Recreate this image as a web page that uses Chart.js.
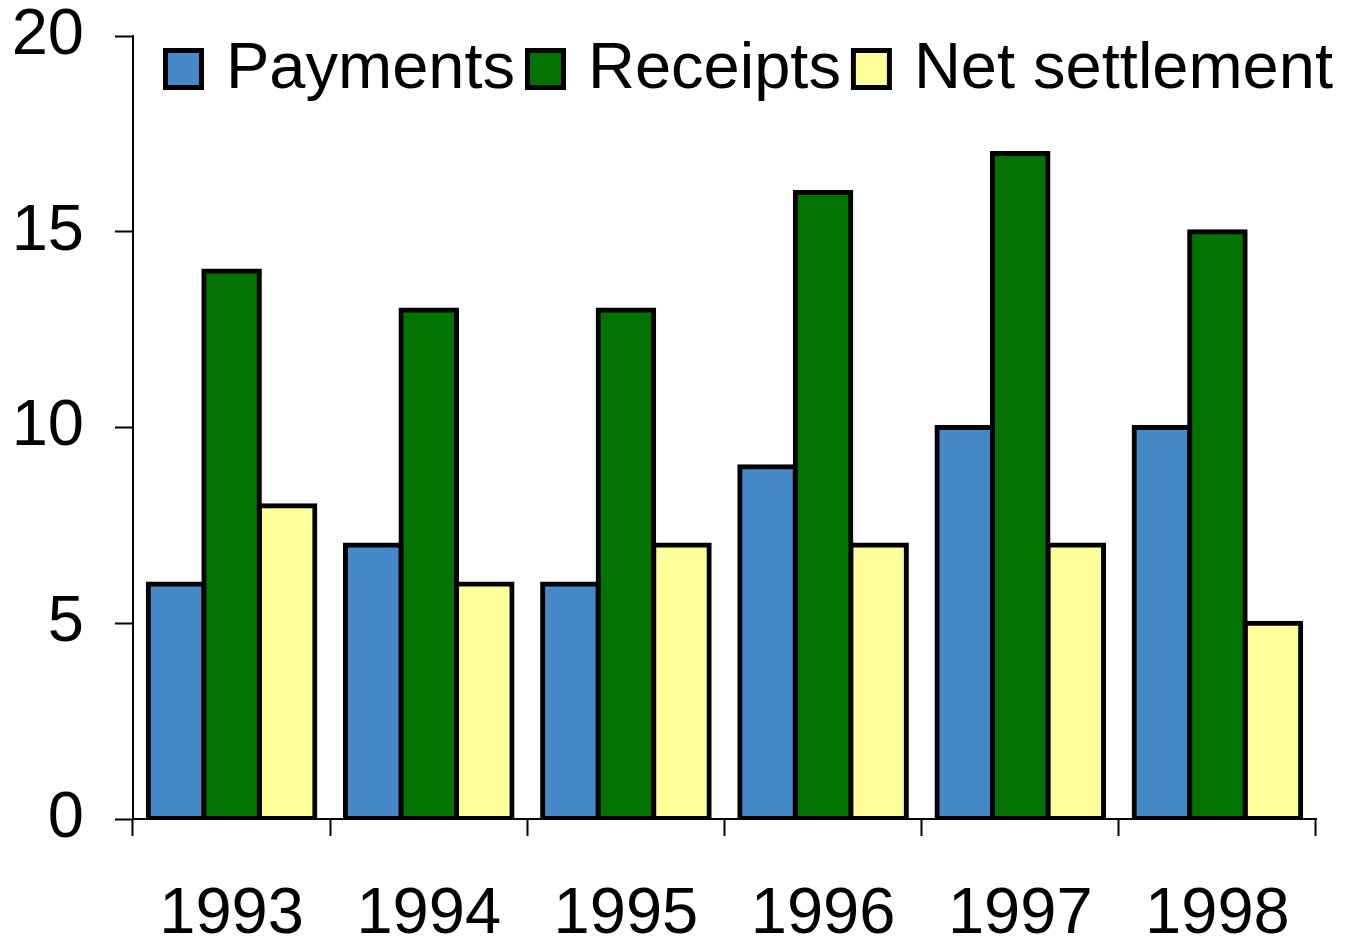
<!DOCTYPE html>
<html>
<head>
<meta charset="utf-8">
<script src="https://cdn.jsdelivr.net/npm/chart.js@4.4.1/dist/chart.umd.min.js"></script>
<style>
html,body{margin:0;padding:0;background:#fff;}
#wrap{width:1348px;height:942px;position:relative;}
</style>
</head>
<body>
<div id="wrap"><canvas id="c" width="1348" height="942"></canvas></div>
<script>
const categories = ["1993", "1994", "1995", "1996", "1997", "1998"];
const payments = [6, 7, 6, 9, 10, 10];
const receipts = [14, 13, 13, 16, 17, 15];
const netSettlement = [8, 6, 7, 7, 7, 5];
const seriesNames = ["Payments", "Receipts", "Net settlement"];
const yTicks = [0, 5, 10, 15, 20];

const FONT = "'Liberation Sans', Arial, sans-serif";

const legendPlugin = {
  id: 'customLegend',
  afterDraw(chart) {
    const ctx = chart.ctx;
    ctx.save();
    ctx.font = '65px ' + FONT;
    ctx.textBaseline = 'alphabetic';
    let x = 163;
    const top = 48, w = 41, h = 42, bw = 5;
    chart.data.datasets.forEach(ds => {
      ctx.fillStyle = '#000';
      ctx.fillRect(x, top, w, h);
      ctx.fillStyle = ds.backgroundColor;
      ctx.fillRect(x + bw, top + bw, w - 2 * bw, h - 2 * bw);
      ctx.fillStyle = '#000';
      const tx = x + 63;
      ctx.fillText(ds.label, tx, 88);
      x = tx + ctx.measureText(ds.label).width + 10;
    });
    ctx.restore();
  }
};

new Chart(document.getElementById('c'), {
  type: 'bar',
  data: {
    labels: categories,
    datasets: [
      { label: seriesNames[0], data: payments, backgroundColor: '#4589C8' },
      { label: seriesNames[1], data: receipts, backgroundColor: '#007300' },
      { label: seriesNames[2], data: netSettlement, backgroundColor: '#FFFF99' }
    ].map(d => Object.assign(d, { borderColor: '#000', borderWidth: 5, borderSkipped: false, inflateAmount: 2.5 }))
  },
  options: {
    responsive: false,
    animation: false,
    devicePixelRatio: 1,
    layout: { padding: { left: 0, right: 32, top: 36, bottom: 0 } },
    plugins: { legend: { display: false }, tooltip: { enabled: false } },
    datasets: { bar: { categoryPercentage: 0.845, barPercentage: 1.0 } },
    scales: {
      x: {
        offset: true,
        afterFit(scale) { scale.height = 123; scale.paddingLeft = 0; scale.paddingRight = 0; },
        grid: { offset: true, drawOnChartArea: false, drawTicks: true, tickLength: 17, tickColor: '#000', tickWidth: 2 },
        border: { display: true, color: '#000', width: 2 },
        ticks: { color: '#000', font: { family: FONT, size: 65 }, padding: 40, maxRotation: 0 }
      },
      y: {
        min: 0, max: 20,
        afterBuildTicks(scale) { scale.ticks = yTicks.map(v => ({ value: v })); },
        afterFit(scale) { scale.width = 133; scale.paddingTop = 0; scale.paddingBottom = 0; },
        grid: { drawOnChartArea: false, drawTicks: true, tickLength: 18, tickColor: '#000', tickWidth: 2 },
        border: { display: true, color: '#000', width: 2 },
        ticks: { color: '#000', font: { family: FONT, size: 65 }, padding: 31 }
      }
    }
  },
  plugins: [legendPlugin]
});
</script>
</body>
</html>
